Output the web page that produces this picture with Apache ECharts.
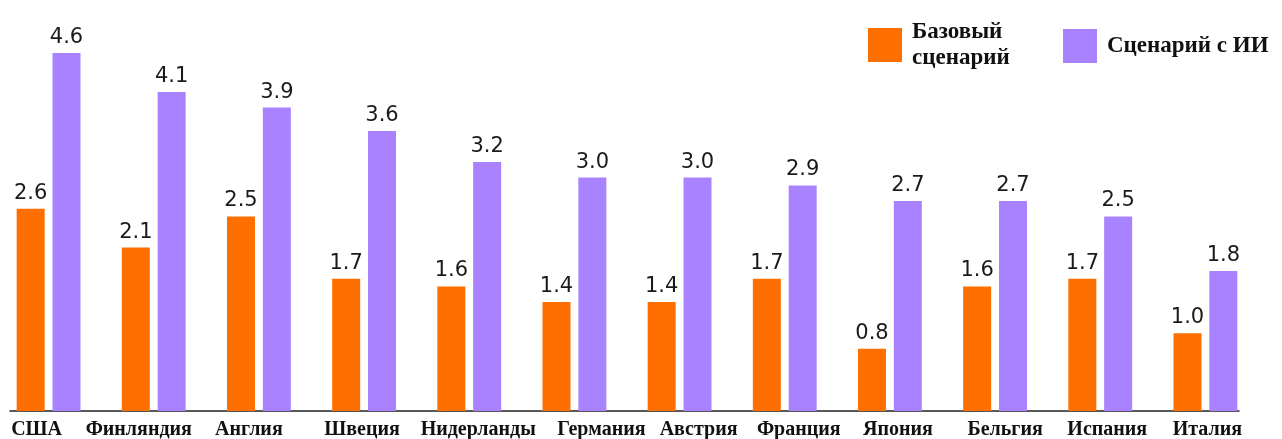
<!DOCTYPE html>
<html>
<head>
<meta charset="utf-8">
<script src="https://cdn.jsdelivr.net/npm/echarts@6/dist/echarts.min.js"></script>
<style>
  html, body { margin: 0; padding: 0; background: #fff; }
  #chart { width: 1282px; height: 439px; }
</style>
</head>
<body>
<div id="chart"></div>
<script>
// данные
var countries = ['США', 'Финляндия', 'Англия', 'Швеция', 'Нидерланды', 'Германия',
                 'Австрия', 'Франция', 'Япония', 'Бельгия', 'Испания', 'Италия'];
var baseValues = [2.6, 2.1, 2.5, 1.7, 1.6, 1.4, 1.4, 1.7, 0.8, 1.6, 1.7, 1.0];
var aiValues = [4.6, 4.1, 3.9, 3.6, 3.2, 3.0, 3.0, 2.9, 2.7, 2.7, 2.5, 1.8];
var baseName = 'Базовый\nсценарий';
var aiName = 'Сценарий с ИИ';

// сдвиг подписей стран по горизонтали (как в оригинале), px
var labelShift = [-12, -15, -10, -2, 9, 27, 19, 14, 8, 10, 7, 2];

var serifFont = '"Liberation Serif", "DejaVu Serif", serif';
var sansFont = '"DejaVu Sans", "Liberation Sans", sans-serif';

var myChart = echarts.init(document.getElementById('chart'));

function labelOpt() {
    return {
        show: true,
        position: 'top',
        distance: 5,
        color: '#1a1a1a',
        fontFamily: sansFont,
        fontSize: 21,
        formatter: function(p) { return p.value.toFixed(1); }
    };
}

var catRich = {};
labelShift.forEach(function(s, i) {
    catRich['c' + i] = {
        fontFamily: serifFont,
        fontWeight: 'bold',
        fontSize: 20,
        color: '#111',
        padding: [0, s < 0 ? -2 * s : 0, 0, s > 0 ? 2 * s : 0]
    };
});

var option = {
    animation: false,
    legend: [{
        left: 863,
        top: 14,
        itemWidth: 34,
        itemHeight: 34,
        icon: 'rect',
        data: [baseName],
        textStyle: {
            fontFamily: serifFont,
            fontWeight: 'bold',
            fontSize: 23,
            lineHeight: 26,
            color: '#111',
            padding: [0, 0, 0, 5]
        }
    }, {
        left: 1058,
        top: 24,
        itemWidth: 34,
        itemHeight: 34,
        icon: 'rect',
        data: [aiName],
        textStyle: {
            fontFamily: serifFont,
            fontWeight: 'bold',
            fontSize: 23,
            color: '#111',
            padding: [0, 0, 0, 5]
        }
    }],
    grid: [{
        left: -4,
        right: 24,
        top: 22,
        bottom: 28,
        outerBoundsMode: 'none'
    }, {
        left: 10,
        right: 43,
        top: 22,
        bottom: 28,
        outerBoundsMode: 'none'
    }],
    xAxis: [{
        type: 'category',
        gridIndex: 0,
        data: countries,
        axisLine: { show: false },
        axisTick: { show: false },
        axisLabel: {
            interval: 0,
            margin: 9,
            fontFamily: serifFont,
            fontWeight: 'bold',
            fontSize: 20,
            color: '#111',
            formatter: function(value, idx) {
                return '{c' + idx + '|' + value + '}';
            },
            rich: catRich
        }
    }, {
        type: 'category',
        gridIndex: 1,
        data: countries,
        axisLine: { show: true, lineStyle: { color: '#222', width: 1.5 } },
        axisTick: { show: false },
        axisLabel: { show: false }
    }],
    yAxis: [{
        type: 'value',
        gridIndex: 0,
        min: 0,
        max: 5,
        show: false
    }, {
        type: 'value',
        gridIndex: 1,
        min: 0,
        max: 5,
        show: false
    }],
    series: [{
        name: baseName,
        type: 'bar',
        xAxisIndex: 0,
        yAxisIndex: 0,
        data: baseValues,
        barWidth: 28,
        barGap: '28%',
        itemStyle: { color: '#FF6F00' },
        label: labelOpt()
    }, {
        name: aiName,
        type: 'bar',
        xAxisIndex: 0,
        yAxisIndex: 0,
        data: aiValues,
        barWidth: 28,
        barGap: '28%',
        itemStyle: { color: '#A882FF' },
        label: labelOpt()
    }]
};

myChart.setOption(option);
</script>
</body>
</html>
